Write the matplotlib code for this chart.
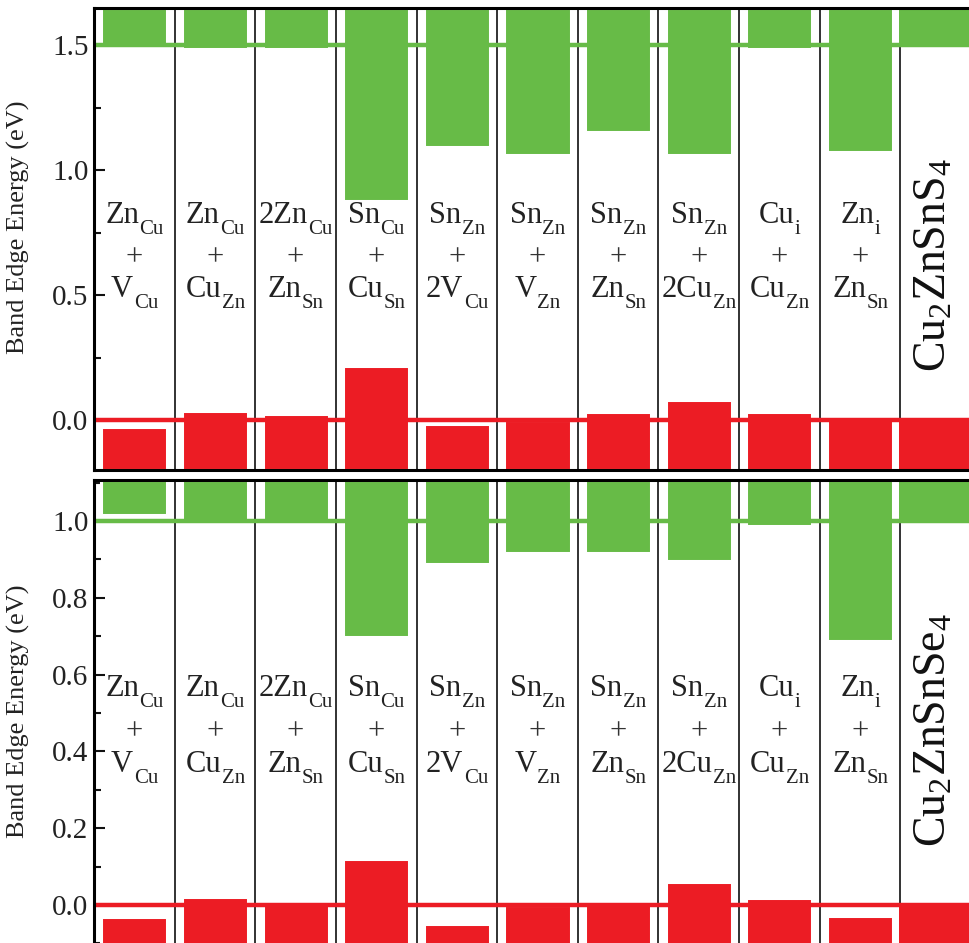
import numpy as np
import matplotlib
matplotlib.use("Agg")
import matplotlib.pyplot as plt
from matplotlib.ticker import MultipleLocator, FormatStrFormatter
from matplotlib.transforms import offset_copy

plt.rcParams['font.family'] = ['Liberation Serif', 'DejaVu Serif']
plt.rcParams['mathtext.fontset'] = 'custom'
plt.rcParams['mathtext.rm'] = 'Liberation Serif'
plt.rcParams['mathtext.it'] = 'Liberation Serif:italic'

# defect complexes: first defect + second defect (element, site); last column = host
first_el = ["Zn", "Zn", "2Zn", "Sn", "Sn", "Sn", "Sn", "Sn", "Cu", "Zn"]
first_site = ["Cu", "Cu", "Cu", "Cu", "Zn", "Zn", "Zn", "Zn", "i", "i"]
second_el = ["V", "Cu", "Zn", "Cu", "2V", "V", "Zn", "2Cu", "Cu", "Zn"]
second_site = ["Cu", "Zn", "Sn", "Sn", "Cu", "Zn", "Sn", "Zn", "Zn", "Sn"]

# Cu2ZnSnS4 band edges (eV)
czts_cbm = [1.50, 1.485, 1.485, 0.876, 1.092, 1.06, 1.152, 1.06, 1.485, 1.072, 1.50]
czts_vbm = [-0.028, 0.036, 0.024, 0.216, -0.016, 0.0, 0.032, 0.08, 0.032, 0.016, 0.0]

# Cu2ZnSnSe4 band edges (eV)
cztse_cbm = [1.016, 0.998, 0.998, 0.698, 0.888, 0.917, 0.917, 0.896, 0.987, 0.688, 1.0]
cztse_vbm = [-0.031, 0.021, 0.008, 0.12, -0.05, 0.0, 0.008, 0.06, 0.018, -0.028, 0.0]

GREEN = '#67bb47'
RED = '#ec1c24'
TXT = '#222222'

W, H = 970, 943
fig = plt.figure(figsize=(9.7, 9.43), dpi=100)
renderer = fig.canvas.get_renderer()


def sub_label(ax, x, y, main, sub, size=22, subsize=15, drop=11):
    # element + lowered subscript, centred as a whole on x
    t1 = ax.text(x, y, main, fontsize=size, ha='left', va='baseline', color=TXT)
    t2 = ax.text(x, y, sub, fontsize=subsize, ha='left', va='baseline', color=TXT)
    w1 = t1.get_window_extent(renderer).width
    w2 = t2.get_window_extent(renderer).width
    x0 = -(w1 + w2) / 2
    t1.set_transform(offset_copy(ax.transData, fig=fig, x=x0, y=0, units='dots'))
    t2.set_transform(offset_copy(ax.transData, fig=fig, x=x0 + w1 + 0.5, y=-drop, units='dots'))


def panel(rect, cbm, vbm, ylim, major, minor, host, text_y, host_y):
    ax = fig.add_axes(rect)
    n = len(cbm)
    x = np.arange(n)
    top, bot = ylim
    ax.set_xlim(-0.5, n - 0.5)
    ax.set_ylim(bot, top)

    # column separators
    for xs in x[:-1] + 0.5:
        ax.axvline(xs, color='#222222', lw=1.3, zorder=1)

    # defect columns: bars with white edges
    cb = np.array(cbm)
    vb = np.array(vbm)
    ax.bar(x[:-1], top - cb[:-1], bottom=cb[:-1], width=0.82, color=GREEN,
           edgecolor='white', lw=2.2, zorder=2)
    ax.bar(x[:-1], vb[:-1] - bot, bottom=bot, width=0.82, color=RED,
           edgecolor='white', lw=2.2, zorder=2)
    # host column
    ax.bar(x[-1], top - cb[-1], bottom=cb[-1], width=1.03, color=GREEN, lw=0, zorder=2)
    ax.bar(x[-1], vb[-1] - bot, bottom=bot, width=1.03, color=RED, lw=0, zorder=2)

    # reference band edges of the host
    ax.axhline(cbm[-1], color=GREEN, lw=3.2, zorder=3)
    ax.axhline(vbm[-1], color=RED, lw=3.2, zorder=3)

    for i in range(n - 1):
        sub_label(ax, x[i], text_y[0], first_el[i], first_site[i])
        ax.text(x[i], text_y[1], '+', ha='center', va='baseline', fontsize=22, color='#333333')
        sub_label(ax, x[i], text_y[2], second_el[i], second_site[i])
    ax.text(x[-1] - 0.08, host_y, host, rotation=90, ha='center', va='center',
            fontsize=33, color='#111111')

    ax.set_xticks([])
    ax.yaxis.set_major_locator(MultipleLocator(major))
    ax.yaxis.set_minor_locator(MultipleLocator(minor))
    ax.yaxis.set_major_formatter(FormatStrFormatter('%.1f'))
    ax.tick_params(axis='y', which='both', direction='in', labelsize=21, pad=4,
                   width=1.5, color='#111111', labelcolor=TXT, right=False)
    ax.tick_params(axis='y', which='major', length=8)
    ax.tick_params(axis='y', which='minor', length=5)
    for s in ax.spines.values():
        s.set_linewidth(2.2)
        s.set_zorder(5)
    ax.set_ylabel('Band Edge Energy (eV)', fontsize=19, color=TXT)
    return ax


# top panel: pixels 8..470, 250 px/eV
left = 94 / W
width = 887 / W
ax1 = panel([left, 1 - 470 / H, width, 462 / H], czts_cbm, czts_vbm, (1.648, -0.2),
            0.5, 0.25, 'Cu$_2$ZnSnS$_4$', (0.788, 0.618, 0.492), 0.62)
ax1.yaxis.set_label_coords(-0.072, 0.525)

# bottom panel: pixels 480..~962, 384 px/eV
ax2 = panel([left, 1 - 962.6 / H, width, 482.6 / H], cztse_cbm, cztse_vbm, (1.107, -0.15),
            0.2, 0.1, 'Cu$_2$ZnSnSe$_4$', (0.544, 0.431, 0.346), 0.455)
ax2.yaxis.set_label_coords(-0.072, 0.52)

fig.savefig('out.png', dpi=100)
